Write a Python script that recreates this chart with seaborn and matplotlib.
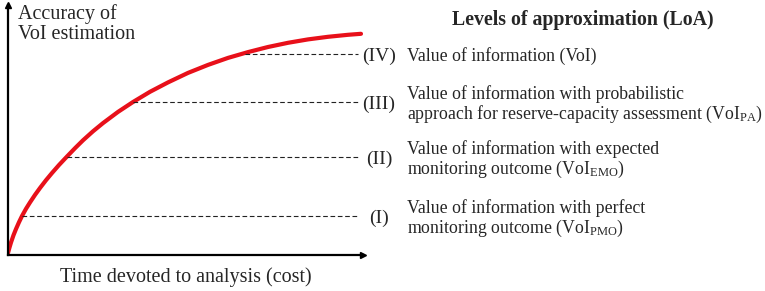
import matplotlib
matplotlib.use("Agg")
import matplotlib.pyplot as plt
import seaborn as sns
import pandas as pd

# ---- data (in arbitrary units) ----
curve_x = [0, 1.5, 3, 5.5, 8, 11, 14, 18, 22, 27, 32, 38, 44, 51, 59, 67, 75,
           85, 95, 110, 125, 142, 160, 180, 200, 220, 240, 260, 280, 300,
           320, 340, 353]
curve_y = [2, 7.5, 12.5, 19.8, 26, 32.8, 39, 46.2, 52.6, 60.1, 67, 74.8, 82,
           90, 98.5, 106.8, 114.7, 123.7, 131.9, 143.1, 153, 163.2, 172.6,
           182.1, 190.1, 197.1, 202.9, 208, 212.2, 215.6, 218.2, 220.2, 221.2]

level_labels = ["(I)", "(II)", "(III)", "(IV)"]
level_y = [39, 98, 153, 201]
level_x_start = [14, 59, 125, 237]
level_x_end = 350

level_texts = [
    "Value of information with perfect\nmonitoring outcome (VoI$_{\\mathrm{PMO}}$)",
    "Value of information with expected\nmonitoring outcome (VoI$_{\\mathrm{EMO}}$)",
    "Value of information with probabilistic\napproach for reserve-capacity assessment (VoI$_{\\mathrm{PA}}$)",
    "Value of information (VoI)",
]
legend_title = "Levels of approximation (LoA)"
y_label = "Accuracy of\nVoI estimation"
x_label = "Time devoted to analysis (cost)"

# ---- style ----
sns.set_style("white")
plt.rcParams["font.family"] = ["Liberation Serif", "DejaVu Serif"]
plt.rcParams["mathtext.fontset"] = "custom"
plt.rcParams["mathtext.rm"] = "Liberation Serif"
plt.rcParams["mathtext.it"] = "Liberation Serif:italic"
plt.rcParams["mathtext.bf"] = "Liberation Serif:bold"

W, H = 765, 291
fig = plt.figure(figsize=(W / 100, H / 100), dpi=100)
ax = fig.add_axes([8 / W, 36 / H, 355 / W, 250 / H])
ax.set_xlim(0, 355)
ax.set_ylim(0, 250)

df = pd.DataFrame({"x": curve_x, "y": curve_y})
sns.lineplot(data=df, x="x", y="y", ax=ax, color="#E8101A", linewidth=3.0,
             sort=False)

for xs, yv in zip(level_x_start, level_y):
    ax.plot([xs, level_x_end], [yv, yv], color="#222222", lw=0.8,
            dashes=(4.2, 2.4))

# axes with arrows
for s in ["top", "right"]:
    ax.spines[s].set_visible(False)
for s in ["left", "bottom"]:
    ax.spines[s].set_linewidth(1.6)
    ax.spines[s].set_color("black")
ax.set_xticks([])
ax.set_yticks([])
ax.set_xlabel("")
ax.set_ylabel("")
ax.plot(1, 0, ">", color="black", ms=5, transform=ax.get_yaxis_transform(), clip_on=False)
ax.plot(0, 1, "^", color="black", ms=5, transform=ax.get_xaxis_transform(), clip_on=False)

# labels
ax.text(10, 251, y_label, ha="left", va="top", fontsize=14.5, linespacing=1.1)
ax.text(178, -22, x_label, ha="center", va="center", fontsize=14.5, clip_on=False)

for lab, yv, txt in zip(level_labels, level_y, level_texts):
    ax.text(371, yv - 2, lab, ha="center", va="center", fontsize=14, clip_on=False)
    off = -3 if "\n" in txt else -2
    ax.text(399, yv + off, txt, ha="left", va="center", fontsize=12.8,
            linespacing=1.05, clip_on=False)

ax.text(575, 235, legend_title, ha="center", va="center", fontsize=14.3,
        fontweight="bold", clip_on=False)

fig.savefig("out.png", dpi=100)
